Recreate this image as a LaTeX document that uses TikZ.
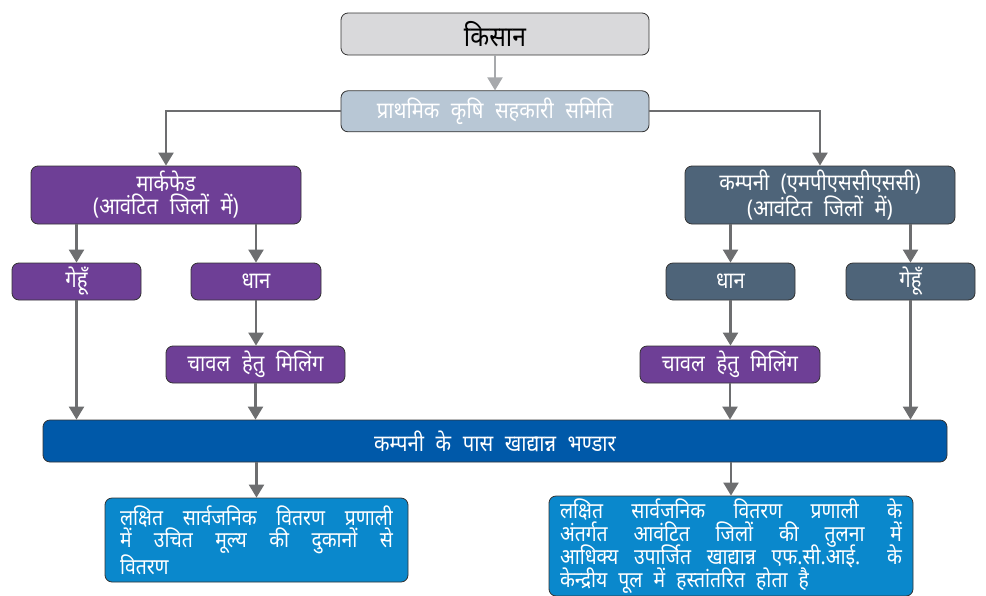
\documentclass[tikz,border=0pt]{standalone}
\usepackage{fontspec}
\newfontfamily\hindi[Script=Devanagari, WordSpace=2.2, FakeStretch=0.88]{Noto Sans}
\usetikzlibrary{arrows.meta, positioning}
\definecolor{kisangray}{HTML}{D9D9DB}
\definecolor{samitiblue}{HTML}{B8C7D5}
\definecolor{mfpurple}{HTML}{6E3F96}
\definecolor{coslate}{HTML}{4E6479}
\definecolor{storeblue}{HTML}{0059A9}
\definecolor{distblue}{HTML}{0A88CC}
\definecolor{arrgray}{HTML}{6D6E70}
\definecolor{lightarr}{HTML}{A7A9AC}
\newcommand{\tightlines}{\lineskiplimit -30pt\relax\lineskip 0pt\relax}

\begin{document}
\begin{tikzpicture}[
    x=1pt, y=-1pt,
    font=\hindi\fontsize{23}{23}\selectfont,
    box/.style={draw=black!80, line width=0.8pt, rounded corners=7pt, text=white, align=center, inner sep=2pt, minimum height=37pt},
    purplebox/.style={box, fill=mfpurple},
    slatebox/.style={box, fill=coslate},
    distbox/.style={box, fill=distblue, align=justify, inner xsep=11pt, inner ysep=2pt},
    arr/.style={-{Triangle[width=15pt,length=13pt]}, line width=2.2pt, draw=arrgray}
]
    \useasboundingbox (0,0) rectangle (986,595);
    \node[box, fill=kisangray, text=black, minimum width=308pt, minimum height=42pt, font=\hindi\fontsize{28}{28}\selectfont\bfseries] (kisan) at (495,34) {किसान};
    \node[box, fill=samitiblue, below=35pt of kisan, minimum width=308pt, minimum height=41pt] (samiti) {प्राथमिक कृषि सहकारी समिति};
    \node[purplebox, minimum width=270pt, minimum height=58pt] (markfed) at (166,195) {मार्कफेड\\(आवंटित जिलों में)};
    \node[slatebox, minimum width=270pt, minimum height=58pt] (kampani) at (820,195) {कम्पनी (एमपीएससीएससी)\\(आवंटित जिलों में)};
    \node[purplebox, minimum width=129pt] (gehun1) at (76.5,281.5) {गेहूँ};
    \node[purplebox, minimum width=130pt] (dhan1) at (256,281.5) {धान};
    \node[slatebox, minimum width=129pt] (dhan2) at (730.5,281.5) {धान};
    \node[slatebox, minimum width=129pt] (gehun2) at (910.5,281.5) {गेहूँ};
    \node[purplebox, minimum width=179pt] (chawal1) at (255.5,364.5) {चावल हेतु मिलिंग};
    \node[purplebox, minimum width=180pt] (chawal2) at (730,364.5) {चावल हेतु मिलिंग};
    \node[box, fill=storeblue, minimum width=904pt, minimum height=42pt] (bhandar) at (495,441) {कम्पनी के पास खाद्यान्न भण्डार};
    \node[distbox, inner xsep=15pt, text width=273pt, minimum height=84pt, font=\hindi\fontsize{22}{22}\selectfont] (vitaran1) at (256.5,540) {लक्षित सार्वजनिक वितरण प्रणाली\linebreak में उचित मूल्य की दुकानों से\linebreak वितरण};
    \node[distbox, text width=342pt, minimum height=100pt, font={\hindi\fontsize{22}{23}\selectfont\tightlines}] (vitaran2) at (731,546) {लक्षित सार्वजनिक वितरण प्रणाली के\linebreak अंतर्गत आवंटित जिलों की तुलना में\linebreak आधिक्य उपार्जित खाद्यान्न एफ.सी.आई. के\linebreak केन्द्रीय पूल में हस्तांतरित होता है};

    \draw[arr, draw=lightarr] (kisan) -- (samiti);
    \draw[arr] (samiti.west) -| (markfed.north);
    \draw[arr] (samiti.east) -| (kampani.north);
    \draw[arr] (gehun1 |- markfed.south) -- (gehun1.north);
    \draw[arr] (dhan1 |- markfed.south) -- (dhan1.north);
    \draw[arr] (dhan2 |- kampani.south) -- (dhan2.north);
    \draw[arr] (gehun2 |- kampani.south) -- (gehun2.north);
    \draw[arr] (dhan1.south) -- (dhan1.south |- chawal1.north);
    \draw[arr] (dhan2.south) -- (dhan2.south |- chawal2.north);
    \draw[arr] (gehun1.south) -- (gehun1.south |- bhandar.north);
    \draw[arr] (chawal1.south) -- (chawal1.south |- bhandar.north);
    \draw[arr] (chawal2.south) -- (chawal2.south |- bhandar.north);
    \draw[arr] (gehun2.south) -- (gehun2.south |- bhandar.north);
    \draw[arr] (vitaran1.north |- bhandar.south) -- (vitaran1.north);
    \draw[arr] (vitaran2.north |- bhandar.south) -- (vitaran2.north);
\end{tikzpicture}
\end{document}
